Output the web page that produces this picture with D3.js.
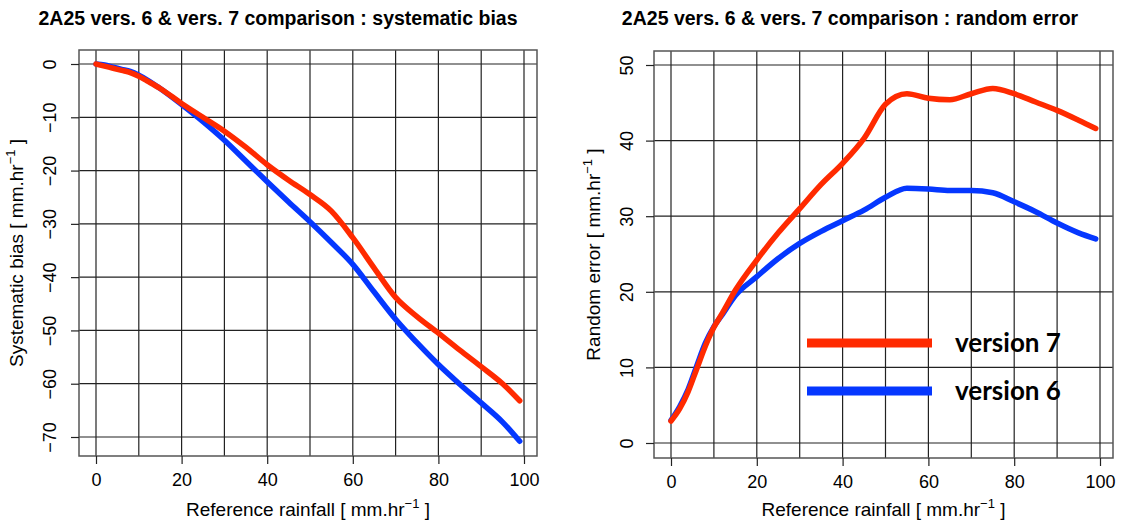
<!DOCTYPE html>
<head>
  <meta charset="utf-8">
  <title>2A25 vers. 6 & vers. 7 comparison</title>
  <script src="https://d3js.org/d3.v7.min.js"></script>
  <style>
    body { margin: 0; background: #fff; }
    text { font-family: "Liberation Sans", Arial, sans-serif; fill: #000; }
    text.legend { font-family: Lato, "Open Sans", sans-serif; }
  </style>
</head>
<body>
  <svg width="1142" height="530"></svg>

  <script>

  // reference rainfall (mm/hr), shared by all four curves
  var rain = [0, 2, 4, 6, 8, 10, 12, 15, 20, 25, 30, 35, 40, 45, 50, 55, 60, 65, 70, 75, 80, 85, 90, 95, 99];

  // systematic bias
  var biasV7 = [0, -0.4, -0.8, -1.2, -1.6, -2.3, -3.2, -4.6, -7.4, -10, -12.6, -15.6, -18.9, -21.8, -24.5, -27.6, -32.6, -38.3, -43.8, -47.4, -50.5, -53.7, -56.8, -60, -63.2];
  var biasV6 = [0, -0.2, -0.6, -1.0, -1.4, -2.1, -3.0, -4.6, -7.6, -10.8, -14.3, -18.2, -22.1, -25.9, -29.6, -33.5, -37.6, -42.8, -47.9, -52.3, -56.4, -60.1, -63.6, -67.2, -70.8];

  // random error
  var errV7 = [2.9, 4.5, 6.8, 9.8, 12.8, 15.3, 17.2, 20.2, 24.2, 27.8, 31.0, 34.2, 37.0, 40.3, 44.8, 46.2, 45.6, 45.4, 46.2, 46.9, 46.2, 45.1, 44.0, 42.7, 41.6];
  var errV6 = [3.0, 4.8, 7.1, 10.2, 13.2, 15.4, 17.0, 19.5, 22.0, 24.4, 26.4, 28.0, 29.4, 30.8, 32.5, 33.7, 33.6, 33.4, 33.4, 33.1, 31.9, 30.6, 29.1, 27.8, 27.0];

  var xTicks = [0, 20, 40, 60, 80, 100];
  var xGrid = [0, 10, 20, 30, 40, 50, 60, 70, 80, 90, 100];
  var biasTicks = [0, -10, -20, -30, -40, -50, -60, -70];
  var errTicks = [0, 10, 20, 30, 40, 50];
  var seriesNames = ["version 7", "version 6"];
  var red = "#ff2a00", blue = "#0537ff";

  var svg = d3.select("svg");

  function panel(opt) {
    var g = svg.append("g");
    var x = d3.scaleLinear().domain([0, 100]).range(opt.xr);
    var y = d3.scaleLinear().domain(opt.yd).range(opt.yr);
    var b = opt.box; // [left, top, right, bottom]

    // grid
    g.selectAll(".gx").data(xGrid).enter().append("line")
      .attr("x1", function(d) { return x(d); })
      .attr("x2", function(d) { return x(d); })
      .attr("y1", b[1]).attr("y2", b[3])
      .attr("stroke", "#222").attr("stroke-width", 1.2);
    g.selectAll(".gy").data(opt.yTicks).enter().append("line")
      .attr("x1", b[0]).attr("x2", b[2])
      .attr("y1", function(d) { return y(d); })
      .attr("y2", function(d) { return y(d); })
      .attr("stroke", "#222").attr("stroke-width", 1.2);

    g.append("rect")
      .attr("x", b[0]).attr("y", b[1])
      .attr("width", b[2] - b[0]).attr("height", b[3] - b[1])
      .attr("fill", "none").attr("stroke", "#555").attr("stroke-width", 1.5);

    // axes
    var xa = g.append("g")
      .attr("transform", "translate(0," + b[3] + ")")
      .call(d3.axisBottom(x).tickValues(xTicks).tickSize(8).tickPadding(9).tickFormat(d3.format("d")));
    xa.select(".domain").remove();
    xa.selectAll("line").attr("stroke", "#222").attr("stroke-width", 1.2);
    xa.selectAll("text").attr("font-size", 18);

    var ya = g.append("g")
      .attr("transform", "translate(" + b[0] + ",0)")
      .call(d3.axisLeft(y).tickValues(opt.yTicks).tickSize(8).tickFormat(d3.format("d")));
    ya.select(".domain").remove();
    ya.selectAll("line").attr("stroke", "#222").attr("stroke-width", 1.2);
    ya.selectAll("text")
      .attr("font-size", 18)
      .attr("text-anchor", "middle")
      .attr("transform", "rotate(-90)")
      .attr("x", 0).attr("y", -opt.yLabOff).attr("dy", "0.35em");

    // titles
    svg.append("text")
      .attr("x", opt.titleX).attr("y", 25)
      .attr("text-anchor", "middle")
      .attr("font-size", 19.5).attr("font-weight", "bold")
      .text(opt.title);

    var xt = svg.append("text")
      .attr("x", (b[0] + b[2]) / 2).attr("y", 516)
      .attr("text-anchor", "middle").attr("font-size", 19);
    xt.append("tspan").text("Reference rainfall [ mm.hr");
    xt.append("tspan").attr("dy", -8).attr("font-size", 13).text("\u22121");
    xt.append("tspan").attr("dy", 8).text(" ]");

    var yt = svg.append("text")
      .attr("transform", "translate(" + opt.yTitleX + "," + ((b[1] + b[3]) / 2) + ") rotate(-90)")
      .attr("text-anchor", "middle").attr("font-size", 19);
    yt.append("tspan").text(opt.yTitle + " [ mm.hr");
    yt.append("tspan").attr("dy", -8).attr("font-size", 13).text("\u22121");
    yt.append("tspan").attr("dy", 8).text(" ]");

    // curves, blue under red
    var line = d3.line()
      .x(function(d) { return x(d[0]); })
      .y(function(d) { return y(d[1]); })
      .curve(d3.curveMonotoneX);
    [[opt.v6, blue], [opt.v7, red]].forEach(function(s) {
      g.append("path")
        .datum(d3.zip(rain, s[0]))
        .attr("d", line)
        .attr("fill", "none")
        .attr("stroke", s[1])
        .attr("stroke-width", 5.5)
        .attr("stroke-linecap", "round")
        .attr("stroke-linejoin", "round");
    });
    return g;
  }

  panel({
    xr: [96, 524], yd: [0, -70], yr: [64, 437], box: [79, 50, 537, 456],
    yTicks: biasTicks, yLabOff: 29, yTitleX: 23,
    title: "2A25 vers. 6 & vers. 7 comparison : systematic bias", titleX: 278,
    yTitle: "Systematic bias", v7: biasV7, v6: biasV6
  });

  panel({
    xr: [671, 1100], yd: [0, 50], yr: [443, 65], box: [654, 51, 1113, 458],
    yTicks: errTicks, yLabOff: 27, yTitleX: 600,
    title: "2A25 vers. 6 & vers. 7 comparison : random error", titleX: 850,
    yTitle: "Random error", v7: errV7, v6: errV6
  });

  // legend
  var legend = svg.append("g").attr("transform", "translate(807,343)");
  legend.selectAll("line").data(seriesNames).enter().append("line")
    .attr("x1", 0).attr("x2", 125)
    .attr("y1", function(d, i) { return i * 48; })
    .attr("y2", function(d, i) { return i * 48; })
    .attr("stroke", function(d, i) { return i == 0 ? red : blue; })
    .attr("stroke-width", 9);
  legend.selectAll("text").data(seriesNames).enter().append("text")
    .attr("class", "legend")
    .attr("x", 148)
    .attr("y", function(d, i) { return i * 48 + 9; })
    .attr("font-weight", "bold")
    .attr("font-size", 26)
    .text(function(d) { return d; });

  </script>
</body>
